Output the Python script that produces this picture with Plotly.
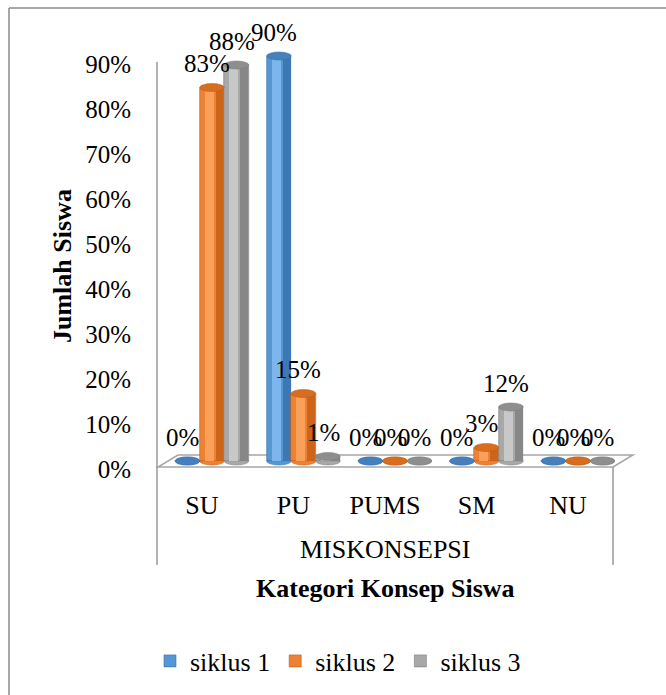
import plotly.graph_objects as go

# ---------------- data ----------------
categories = ["SU", "PU", "PUMS", "SM", "NU"]
series_names = ["siklus 1", "siklus 2", "siklus 3"]
siklus1 = [0, 90, 0, 0, 0]
siklus2 = [83, 15, 0, 3, 0]
siklus3 = [88, 1, 0, 12, 0]
y_tick_values = [0, 10, 20, 30, 40, 50, 60, 70, 80, 90]
y_tick_labels = ["0%", "10%", "20%", "30%", "40%", "50%", "60%", "70%", "80%", "90%"]
group_label = "MISKONSEPSI"
x_title = "Kategori Konsep Siswa"
y_title = "Jumlah Siswa"

# ---------------- style ----------------
W, H = 666, 695
PL, PR, PT, PB = 158, 633, 20, 467
FONT = "Liberation Serif"
XR = [-0.590, 4.601]
YR = [-1.333, 98.0]
BW = 0.268
OFFS = [-0.268, 0.0, 0.268]
CAP_H = 0.9

styles = [
    dict(body="#5596d4", light="#7cb6ec", shade="#3d77b4", cap="#4580bd", edge="#3a6ea6"),
    dict(body="#ef8232", light="#f9a05a", shade="#cc6419", cap="#d96d1e", edge="#b85a16"),
    dict(body="#a8a8a8", light="#c8c8c8", shade="#878787", cap="#8e8e8e", edge="#7a7a7a"),
]
all_series = [siklus1, siklus2, siklus3]


def px(x):
    return (x - PL) / (PR - PL)


def py(y):
    return (PB - y) / (PB - PT)


fig = go.Figure()
shapes = []
annotations = []

# floor of the 3D plot area
shapes.append(dict(
    type="path", xref="paper", yref="paper", layer="below",
    path=f"M {px(158)},{py(467)} L {px(613)},{py(467)} L {px(633)},{py(455)} L {px(178)},{py(455)} Z",
    fillcolor="white", line=dict(color="#a6a6a6", width=1.5),
))

for i, (name, vals, st) in enumerate(zip(series_names, all_series, styles)):
    xs = [g + OFFS[i] for g in range(len(categories))]
    fig.add_trace(go.Bar(
        x=xs, y=vals, width=BW, name=name, legendgroup=name,
        marker=dict(color=st["body"], line=dict(color=st["edge"], width=0.6)),
        hoverinfo="skip",
    ))
    fig.add_trace(go.Bar(
        x=[x + 0.085 for x in xs], y=vals, width=0.09, showlegend=False, legendgroup=name,
        marker=dict(color=st["shade"], line=dict(width=0)), hoverinfo="skip",
    ))
    fig.add_trace(go.Bar(
        x=[x - 0.03 for x in xs], y=vals, width=0.10, showlegend=False, legendgroup=name,
        marker=dict(color=st["light"], line=dict(width=0)), hoverinfo="skip",
    ))
    for x, v in zip(xs, vals):
        # bottom rounding
        shapes.append(dict(type="circle", xref="x", yref="y", layer="below",
                           x0=x - BW / 2, x1=x + BW / 2, y0=-CAP_H, y1=CAP_H,
                           fillcolor=st["body"], line=dict(color=st["edge"], width=0.5)))
        # top cap
        shapes.append(dict(type="circle", xref="x", yref="y", layer="above",
                           x0=x - BW / 2, x1=x + BW / 2, y0=v - CAP_H, y1=v + CAP_H,
                           fillcolor=st["cap"], line=dict(color=st["edge"], width=0.5)))
        annotations.append(dict(x=x, y=v, xref="x", yref="y", text=f"{v}%",
                                showarrow=False, yshift=24, xshift=-5,
                                xanchor="center", yanchor="middle",
                                font=dict(family=FONT, size=25, color="black")))

# outer frame (cropped) and axis lines
line_col = "#9a9a9a"
shapes += [
    dict(type="line", xref="paper", yref="paper", x0=px(9), x1=px(666), y0=py(8), y1=py(8),
         line=dict(color="#8a8a8a", width=1.5)),
    dict(type="line", xref="paper", yref="paper", x0=px(9), x1=px(9), y0=py(8), y1=py(695),
         line=dict(color="#8a8a8a", width=1.5)),
    dict(type="line", xref="paper", yref="paper", x0=px(157), x1=px(157), y0=py(62), y1=py(565),
         line=dict(color=line_col, width=1.5)),
    dict(type="line", xref="paper", yref="paper", x0=px(613), x1=px(613), y0=py(467), y1=py(565),
         line=dict(color=line_col, width=1.5)),
]

annotations += [
    dict(xref="paper", yref="paper", x=px(385), y=py(549), text=group_label, showarrow=False,
         xanchor="center", yanchor="middle",
         font=dict(family=FONT, size=26, color="black")),
    dict(xref="paper", yref="paper", x=px(385), y=py(588), text=f"<b>{x_title}</b>", showarrow=False,
         xanchor="center", yanchor="middle",
         font=dict(family=FONT, size=26, color="black")),
    dict(xref="paper", yref="paper", x=px(62), y=py(266), text=f"<b>{y_title}</b>", showarrow=False,
         xanchor="center", yanchor="middle",
         textangle=-90, font=dict(family=FONT, size=26, color="black")),
]

fig.update_layout(
    width=W, height=H,
    margin=dict(l=PL, r=W - PR, t=PT, b=H - PB),
    paper_bgcolor="white", plot_bgcolor="rgba(0,0,0,0)",
    barmode="overlay", bargap=0,
    shapes=shapes, annotations=annotations,
    font=dict(family=FONT, color="black"),
    xaxis=dict(range=XR, tickvals=list(range(len(categories))), ticktext=categories,
               showgrid=False, zeroline=False, showline=False, ticks="",
               ticklabelshift=-10, ticklabelstandoff=20,
               tickfont=dict(family=FONT, size=26, color="black"), fixedrange=True),
    yaxis=dict(range=YR, tickvals=y_tick_values, ticktext=y_tick_labels,
               showgrid=False, zeroline=False, showline=False, ticks="",
               ticklabelshift=8, ticklabelstandoff=26,
               tickfont=dict(family=FONT, size=25, color="black"), fixedrange=True),
    legend=dict(orientation="h", xref="container", yref="container",
                x=150 / W, xanchor="left", y=1 - 661 / H, yanchor="middle",
                font=dict(family=FONT, size=26, color="black"),
                bgcolor="rgba(0,0,0,0)", traceorder="normal"),
    showlegend=True,
)

fig.write_html("out.html", config={"displayModeBar": False})
